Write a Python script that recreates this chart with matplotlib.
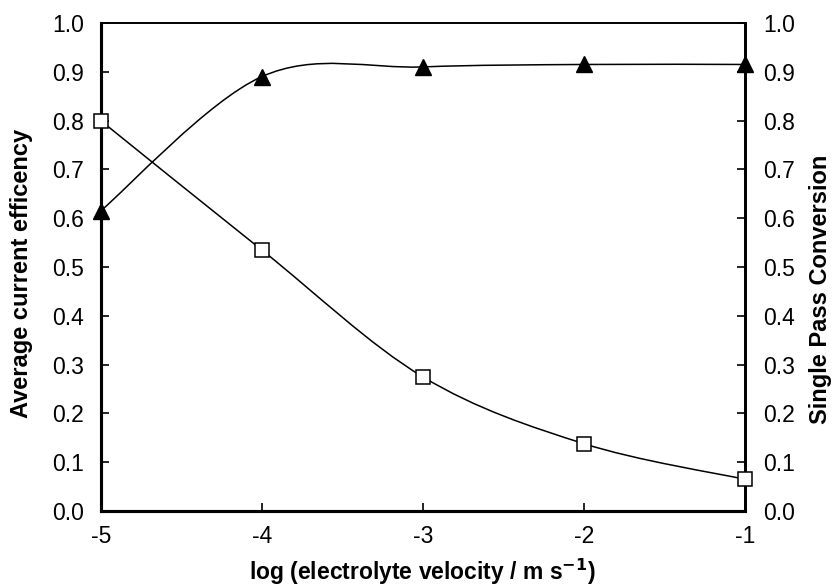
import numpy as np
import matplotlib
matplotlib.use("Agg")
import matplotlib.pyplot as plt
from matplotlib.path import Path
from matplotlib.patches import PathPatch

plt.rcParams['font.family'] = ['Liberation Sans', 'DejaVu Sans']

# Data
log_velocity = [-5, -4, -3, -2, -1]
current_efficiency = [0.615, 0.89, 0.91, 0.915, 0.915]
single_pass_conversion = [0.80, 0.535, 0.275, 0.138, 0.065]

x_ticks = [-5, -4, -3, -2, -1]
y_ticks = [0.0, 0.1, 0.2, 0.3, 0.4, 0.5, 0.6, 0.7, 0.8, 0.9, 1.0]


def smooth_path(xs, ys):
    """Excel-like smoothed line: cubic Bezier through points (Catmull-Rom)."""
    pts = np.column_stack([xs, ys]).astype(float)
    n = len(pts)
    verts = [pts[0]]
    codes = [Path.MOVETO]
    for i in range(n - 1):
        p0 = pts[i - 1] if i > 0 else pts[i]
        p1 = pts[i]
        p2 = pts[i + 1]
        p3 = pts[i + 2] if i + 2 < n else pts[i + 1]
        c1 = p1 + (p2 - p0) / 6.0
        c2 = p2 - (p3 - p1) / 6.0
        verts += [c1, c2, p2]
        codes += [Path.CURVE4] * 3
    return Path(verts, codes)


fig = plt.figure(figsize=(8.35, 5.85), dpi=100)
ax = fig.add_axes([0.1206, 0.1265, 0.7714, 0.8342])
ax2 = ax.twinx()
ax2.set_position(ax.get_position())

for a in (ax, ax2):
    a.set_xlim(-5, -1)
    a.set_ylim(0, 1)

ax.add_patch(PathPatch(smooth_path(log_velocity, current_efficiency),
                       facecolor='none', edgecolor='black', lw=1.1, zorder=3))
ax.plot(log_velocity, current_efficiency, linestyle='none', marker='^',
        markersize=12, color='black', clip_on=False, zorder=5)

ax2.add_patch(PathPatch(smooth_path(log_velocity, single_pass_conversion),
                        facecolor='none', edgecolor='black', lw=1.1, zorder=3))
ax2.plot(log_velocity, single_pass_conversion, linestyle='none', marker='s',
         markersize=10, markerfacecolor='white', markeredgecolor='black',
         markeredgewidth=1.1, clip_on=False, zorder=5)

ax.set_xticks(x_ticks)
ax.set_xticklabels([f"{v:d}" for v in x_ticks])
ax.set_yticks(y_ticks)
ax.set_yticklabels([f"{v:.1f}" for v in y_ticks])
ax2.set_yticks(y_ticks)
ax2.set_yticklabels([f"{v:.1f}" for v in y_ticks])

ax.tick_params(axis='both', direction='in', length=6, width=1.2,
               labelsize=16.5, pad=12)
ax.tick_params(axis='x', pad=10)
ax2.tick_params(axis='y', direction='in', length=6, width=1.2,
                labelsize=16.5, pad=13)

for a in (ax, ax2):
    a.spines['top'].set_linewidth(1.2)
    a.spines['left'].set_linewidth(2.2)
    a.spines['bottom'].set_linewidth(2.2)
    a.spines['right'].set_linewidth(2.0)

ax.set_xlabel('log (electrolyte velocity / m s$^{\\mathbf{-1}}$)',
              fontsize=16.5, fontweight='bold')
ax.set_ylabel('Average current efficency', fontsize=17, fontweight='bold')
ax2.set_ylabel('Single Pass Conversion', fontsize=17, fontweight='bold',
               rotation=90)
ax.yaxis.set_label_coords(-0.105, 0.486)
ax2.yaxis.set_label_coords(1.1, 0.455)
ax.xaxis.set_label_coords(0.5, -0.093)

fig.savefig('out.png', dpi=100)
